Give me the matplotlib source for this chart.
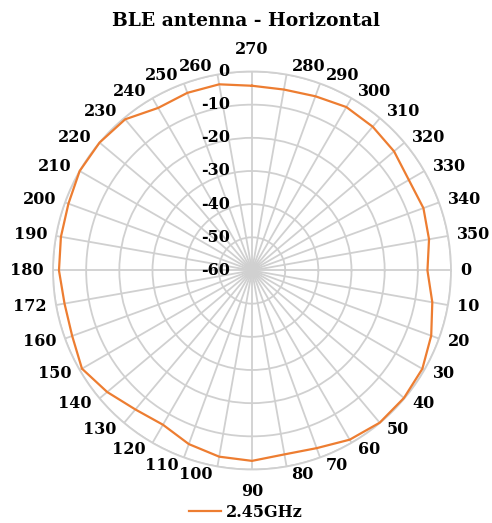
import numpy as np
import matplotlib.pyplot as plt

# category order as in the sheet (starts at the top, goes clockwise)
angles = [270, 280, 290, 300, 310, 320, 330, 340, 350, 0, 10, 20, 30, 40, 50, 60, 70, 80,
          90, 100, 110, 120, 130, 140, 150, 160, 170, 180, 190, 200, 210, 220, 230, 240, 250, 260]
labels = ['270', '280', '290', '300', '310', '320', '330', '340', '350', '0', '10', '20', '30',
          '40', '50', '60', '70', '80', '90', '100', '110', '120', '130', '140', '150', '160',
          '172', '180', '190', '200', '210', '220', '230', '240', '250', '260']
gain_245 = [-4.3, -4.6, -4.1, -3.1, -3.4, -4.1, -5.4, -5.0, -5.8, -7.1, -4.8, -2.5, -0.7,
            -0.2, -0.1, -1.1, -3.0, -3.7, -2.6, -3.0, -4.3, -6.3, -5.3, -3.0, -0.8, -2.3,
            -2.6, -1.8, -1.5, -1.1, 0.0, 0.0, -0.5, -3.4, -3.0, -3.0]
r_ticks = [-60, -50, -40, -30, -20, -10, 0]

FONT = 'DejaVu Serif'
GRID = '#d0d0d0'
ORANGE = '#ED7D31'
PX = 0.72  # points per pixel at 100 dpi

fig = plt.figure(figsize=(4.92, 5.23), dpi=100)
ax = fig.add_axes([0.1077, 0.1023, 0.809, 0.761], projection='polar')
ax.set_theta_zero_location('E')
ax.set_theta_direction(-1)
ax.set_ylim(-60, 0)

th = np.deg2rad(angles + angles[:1])
ax.plot(th, gain_245 + gain_245[:1], color=ORANGE, lw=1.6, label='2.45GHz', zorder=5, clip_on=False)

ax.set_xticks(np.deg2rad(angles))
ax.set_xticklabels([])
ax.set_yticks(r_ticks)
ax.set_yticklabels([])
ax.grid(True, color=GRID, lw=1.3)
ax.spines['polar'].set_color(GRID)
ax.spines['polar'].set_linewidth(1.3)

# category labels placed like Excel: left/right aligned, just outside the ring
for a, lab in zip(angles, labels):
    c, s = np.cos(np.deg2rad(a)), np.sin(np.deg2rad(a))  # s > 0 means downward
    if abs(c) < 1e-6:
        ha, dx, dy = 'center', 0, 22 * s
    else:
        ha = 'left' if c > 0 else 'right'
        dx, dy = np.sign(c) * 4 + 5 * c, 8 * s
    ax.annotate(lab, xy=(np.deg2rad(a), 0), xytext=(dx * PX, -dy * PX),
                textcoords='offset points', ha=ha, va='center',
                fontfamily=FONT, fontweight='bold', fontsize=11.5, annotation_clip=False)

for v in r_ticks:
    ax.annotate(str(v), xy=(np.deg2rad(270), v), xytext=(-16, 0), textcoords='offset points',
                ha='right', va='center', fontfamily=FONT, fontweight='bold', fontsize=11.5)

fig.text(0.5, 0.96, 'BLE antenna - Horizontal', ha='center', va='center',
         fontfamily=FONT, fontweight='bold', fontsize=13.5)
fig.legend(loc='center', bbox_to_anchor=(0.5, 0.02), frameon=False,
           prop={'family': FONT, 'weight': 'bold', 'size': 11.5},
           handlelength=2.0, handletextpad=0.3)

fig.savefig('out.png', dpi=100)
